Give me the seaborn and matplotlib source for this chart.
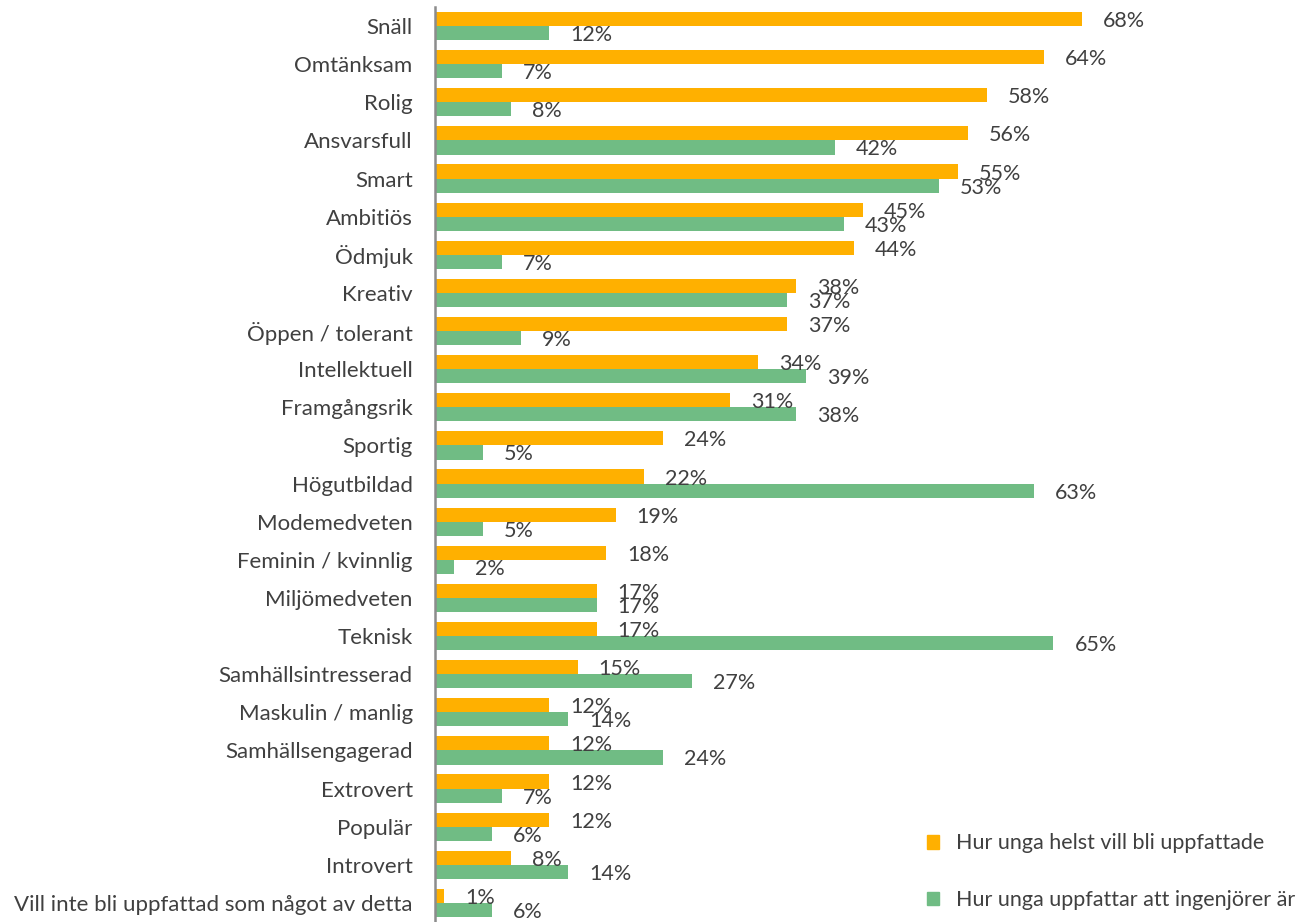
import pandas as pd
import numpy as np
import seaborn as sns
import matplotlib.pyplot as plt
from matplotlib.patches import Patch

# data
egenskaper = ["Snäll", "Omtänksam", "Rolig", "Ansvarsfull", "Smart", "Ambitiös",
              "Ödmjuk", "Kreativ", "Öppen / tolerant", "Intellektuell", "Framgångsrik",
              "Sportig", "Högutbildad", "Modemedveten", "Feminin / kvinnlig",
              "Miljömedveten", "Teknisk", "Samhällsintresserad", "Maskulin / manlig",
              "Samhällsengagerad", "Extrovert", "Populär", "Introvert",
              "Vill inte bli uppfattad som något av detta"]
vill_bli = [68, 64, 58, 56, 55, 45, 44, 38, 37, 34, 31, 24, 22, 19, 18, 17, 17, 15,
            12, 12, 12, 12, 8, 1]
ingenjorer = [12, 7, 8, 42, 53, 43, 7, 37, 9, 39, 38, 5, 63, 5, 2, 17, 65, 27,
              14, 24, 7, 6, 14, 6]
serier = ["Hur unga helst vill bli uppfattade", "Hur unga uppfattar att ingenjörer är"]
farger = ["#FFB000", "#70BC84"]

df = pd.DataFrame({
    "Egenskap": egenskaper * 2,
    "Andel": vill_bli + ingenjorer,
    "Serie": [serier[0]] * len(egenskaper) + [serier[1]] * len(egenskaper),
})

sns.set_style("white")
plt.rcParams["font.family"] = ["Lato", "DejaVu Sans"]
textfarg = "#404040"

fig = plt.figure(figsize=(13.16, 9.22), dpi=100)
ax = fig.add_axes([0.3305, 0.0, 0.6695, 0.9924])

sns.barplot(data=df, y="Egenskap", x="Andel", hue="Serie", orient="h",
            order=egenskaper, hue_order=serier, palette=farger,
            width=0.74, linewidth=0, saturation=1, legend=False, ax=ax)

# labels
for cont in ax.containers:
    for bar in cont:
        w = bar.get_width()
        y = bar.get_y() + bar.get_height() / 2
        ax.annotate(f"{w:.0f}%", (w, y), xytext=(21, -2), textcoords="offset pixels",
                    ha="left", va="center", fontsize=15.5, color=textfarg)

ax.set_xlim(0, 92.6)
ax.set_ylim(len(egenskaper) - 0.5, -0.5)
ax.set_xlabel("")
ax.set_ylabel("")
ax.set_xticks([])
ax.tick_params(axis="y", length=0, pad=16, labelsize=16, labelcolor=textfarg)
for s in ["top", "right", "bottom"]:
    ax.spines[s].set_visible(False)
ax.spines["left"].set_color("#8C8C8C")
ax.spines["left"].set_linewidth(1.8)

handles = [Patch(color=c, label=s) for c, s in zip(farger, serier)]
leg = ax.legend(handles=handles, loc="lower left", bbox_to_anchor=(0.536, -0.008),
                frameon=False, fontsize=15.5, labelspacing=1.7, handlelength=0.6,
                handleheight=0.6, handletextpad=0.75)
for t in leg.get_texts():
    t.set_color(textfarg)

fig.savefig("out.png", dpi=100)
